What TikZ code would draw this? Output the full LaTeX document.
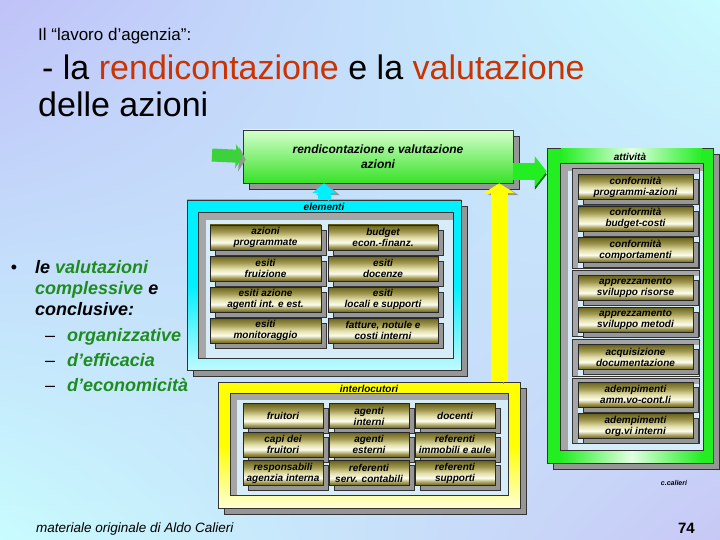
\documentclass[tikz,border=0pt]{standalone}
\usepackage{fontspec}
\setmainfont{Liberation Sans}
\usetikzlibrary{positioning,shadows,shadings,arrows.meta}

\definecolor{lavbg}{RGB}{192,194,248}
\definecolor{lavbg2}{RGB}{200,200,246}
\definecolor{cyanbg}{RGB}{200,252,254}
\definecolor{titred}{RGB}{204,51,0}
\definecolor{valgreen}{RGB}{30,140,30}
\definecolor{shadegray}{RGB}{150,150,150}
\definecolor{bevelgray}{RGB}{166,166,166}
\definecolor{panelblue}{RGB}{214,236,248}
\definecolor{olivedk}{RGB}{104,98,28}
\definecolor{olivemd}{RGB}{160,152,80}
\definecolor{olivelt}{RGB}{226,222,170}
\definecolor{cream}{RGB}{252,252,238}
\definecolor{framecyan}{RGB}{0,240,255}
\definecolor{cyanpale}{RGB}{190,250,255}
\definecolor{frameyellow}{RGB}{255,255,0}
\definecolor{yellowpale}{RGB}{255,255,215}
\definecolor{framegreen}{RGB}{34,238,34}
\definecolor{greenpale}{RGB}{225,255,225}
\definecolor{boxgreen}{RGB}{56,226,40}
\definecolor{boxlight}{RGB}{214,255,205}
\definecolor{arrgreen}{RGB}{60,210,60}

\pgfdeclareverticalshading{olivecell}{100bp}{color(0bp)=(olivedk); color(25bp)=(olivedk); color(31bp)=(olivemd); color(40bp)=(cream); color(50bp)=(olivelt); color(62bp)=(olivemd); color(75bp)=(olivedk); color(100bp)=(olivedk)}

\tikzset{
  framebox/.style={draw=gray!40!black, line width=0.5pt, inner sep=0pt,
    general shadow={fill=shadegray, draw=gray!40!black, shadow xshift=6pt, shadow yshift=-6pt}},
  panelbox/.style={fill=bevelgray, draw=gray!40!black, line width=0.4pt, inner sep=0pt,
    path picture={\fill[panelblue] ([xshift=#1,yshift=-#1]path picture bounding box.north west)
      rectangle (path picture bounding box.south east);}},
  panelbox/.default=8pt,
  cellbox/.style={minimum width=#1, minimum height=25pt, inner sep=0pt, align=center,
    shade, shading=olivecell, draw=gray!30!black, line width=0.4pt,
    font=\bfseries\itshape\fontsize{10}{11}\selectfont,
    general shadow={fill=shadegray, draw=gray!40!black, shadow xshift=5pt, shadow yshift=-5pt}},
  framelabel/.style={font=\bfseries\itshape\fontsize{10}{12}\selectfont, inner sep=0pt},
  listtxt/.style={anchor=base west, inner sep=0pt, font=\bfseries\itshape\fontsize{18}{20}\selectfont},
  uparrow/.style={line width=#1, -{Triangle[width=1.8*#1,length=10pt]},
    preaction={draw=shadegray, transform canvas={shift={(4pt,-2pt)}}}},
}

\begin{document}
\begin{tikzpicture}[x=1pt,y=-1pt]
  \useasboundingbox (0,0) rectangle (720,540);
  \shade[upper left=lavbg, upper right=cyanbg, lower left=cyanbg, lower right=lavbg2] (0,0) rectangle (720,540);

  % title
  \node[anchor=base west, inner sep=0pt, font=\fontsize{17}{20}\selectfont] (tit1) at (38,41) {Il “lavoro d’agenzia”:};
  \node[anchor=base west, inner sep=0pt, font=\fontsize{34}{38}\selectfont] (tit2) at (42,80)
    {- la \textcolor{titred}{rendicontazione} e la \textcolor{titred}{valutazione}};
  \node[anchor=base west, inner sep=0pt, font=\fontsize{34}{38}\selectfont] (tit3) at (38,117) {delle azioni};

  % bullet list
  \node[anchor=base, inner sep=0pt, font=\fontsize{18}{20}\selectfont] (bul) at (14,273) {•};
  \node[listtxt] (val1) at (35,273) {le \textcolor{valgreen}{valutazioni}};
  \node[listtxt] (val2) at (35,294) {\textcolor{valgreen}{complessive} e};
  \node[listtxt] (val3) at (35,315) {conclusive:};
  \node[listtxt, font=\fontsize{18}{20}\selectfont] (d1) at (45,341) {–};
  \node[listtxt, font=\fontsize{18}{20}\selectfont] (d2) at (45,366) {–};
  \node[listtxt, font=\fontsize{18}{20}\selectfont] (d3) at (45,391) {–};
  \node[listtxt, text=valgreen] (org) at (67,341) {organizzative};
  \node[listtxt, text=valgreen] (eff) at (67,366) {d’efficacia};
  \node[listtxt, text=valgreen] (eco) at (67,391) {d’economicità};

  % top box
  \node[framebox, top color=boxlight, bottom color=boxgreen, minimum width=270pt, minimum height=53pt,
    align=center, font=\bfseries\itshape\fontsize{12}{15}\selectfont] (rend) at (378,156.5)
    {rendicontazione e valutazione\\azioni};

  % elementi
  \node[framebox, top color=framecyan, bottom color=cyanpale, middle color=framecyan,
    minimum width=274pt, minimum height=170pt] (elem) at (324,285) {};
  \node[framelabel] (elemlab) at (324,206.5) {elementi};
  \node[panelbox, minimum width=255pt, minimum height=146pt] (elempan) at (325.5,285) {};
  \begin{scope}[node distance=31pt]
    \node[cellbox=111pt] (azprog) at (265.5,237.5) {azioni\\programmate};
    \node[cellbox=111pt] (esfruiz) [below of=azprog] {esiti\\fruizione};
    \node[cellbox=111pt] (esazione) [below of=esfruiz] {esiti azione\\agenti int. e est.};
    \node[cellbox=111pt] (esmonit) [below of=esazione] {esiti\\monitoraggio};
  \end{scope}
  \begin{scope}[node distance=117.5pt]
    \node[cellbox=110pt] (budget) [right of=azprog] {budget\\econ.-finanz.};
    \node[cellbox=110pt] (esdoc) [right of=esfruiz] {esiti\\docenze};
    \node[cellbox=110pt] (eslocali) [right of=esazione] {esiti\\locali e supporti};
    \node[cellbox=110pt] (fatture) [right of=esmonit] {fatture, notule e\\costi interni};
  \end{scope}

  % interlocutori
  \node[framebox, top color=frameyellow, bottom color=yellowpale, middle color=frameyellow,
    minimum width=302pt, minimum height=126pt] (inter) at (369,445) {};
  \node[framelabel] (interlab) at (369,389) {interlocutori};
  \node[panelbox=7pt, minimum width=278pt, minimum height=102pt] (interpan) at (369,444) {};
  \begin{scope}[node distance=28.5pt]
    \node[cellbox=80pt] (fruitori) at (283,416) {fruitori};
    \node[cellbox=80pt] (capi) [below of=fruitori] {capi dei\\fruitori};
    \node[cellbox=80pt] (respons) [below of=capi] {responsabili\\agenzia interna};
  \end{scope}
  \begin{scope}[node distance=86pt]
    \node[cellbox=80pt] (agint) [right of=fruitori] {agenti\\interni};
    \node[cellbox=80pt] (agest) [right of=capi] {agenti\\esterni};
    \node[cellbox=80pt] (refserv) [right of=respons] {referenti\\serv. contabili};
    \node[cellbox=80pt] (docenti) [right of=agint] {docenti};
    \node[cellbox=80pt] (refimm) [right of=agest] {referenti\\immobili e aule};
    \node[cellbox=80pt] (refsupp) [right of=refserv] {referenti\\supporti};
  \end{scope}

  % attivita
  \node[framebox, fill=framegreen, minimum width=166pt, minimum height=315pt] (att) at (630,305.5) {};
  \shade[left color=framegreen, right color=framegreen, middle color=greenpale]
    ([xshift=14pt,yshift=1pt]att.south west) rectangle ([xshift=-11pt,yshift=14pt]att.south east);
  \shade[left color=framegreen, right color=framegreen, middle color=greenpale]
    ([xshift=14pt,yshift=-1pt]att.north west) rectangle ([xshift=-11pt,yshift=-14pt]att.north east);
  \node[framelabel] (attlab) at (630,156.5) {attività};
  \node[panelbox, minimum width=143pt, minimum height=287pt] (attpan) at (631.5,306.5) {};
  \node[panelbox=6pt, minimum width=127pt, minimum height=100pt] (grpA) at (635.5,218) {};
  \node[panelbox=6pt, minimum width=127pt, minimum height=66pt] (grpB) at (635.5,303) {};
  \node[panelbox=6pt, minimum width=127pt, minimum height=37pt] (grpC) at (635.5,357.5) {};
  \node[panelbox=6pt, minimum width=127pt, minimum height=65pt] (grpD) at (635.5,410.5) {};
  \begin{scope}[node distance=31.5pt]
    \node[cellbox=115pt] (confprog) at (635.5,187) {conformità\\programmi-azioni};
    \node[cellbox=115pt] (confbud) [below of=confprog] {conformità\\budget-costi};
    \node[cellbox=115pt] (confcomp) [below of=confbud] {conformità\\comportamenti};
    \node[cellbox=115pt] (apprris) at (635.5,288) {apprezzamento\\sviluppo risorse};
    \node[cellbox=115pt] (apprmet) [below of=apprris] {apprezzamento\\sviluppo metodi};
    \node[cellbox=115pt] (acquis) at (635.5,357) {acquisizione\\documentazione};
    \node[cellbox=115pt] (ademamm) at (635.5,394.5) {adempimenti\\amm.vo-cont.li};
    \node[cellbox=115pt] (ademorg) [below of=ademamm] {adempimenti\\org.vi interni};
  \end{scope}

  % arrows
  \coordinate (ingresso) at (212,155);
  \draw[line width=13pt, draw=arrgreen, -{Triangle[width=24pt,length=7pt]},
    preaction={draw=shadegray, transform canvas={shift={(3pt,-3pt)}}}] (ingresso) -- (rend.west);
  \draw[uparrow=13pt, draw=framecyan] (elem.north) -- (elem.north |- rend.south);
  \coordinate (giallo) at ([xshift=-21pt]inter.north east);
  \draw[uparrow=17pt, draw=frameyellow] (giallo) -- (giallo |- rend.south);
  \draw[line width=17pt, draw=framegreen, -{Triangle[width=30pt,length=12pt]},
    preaction={draw=green!45!black, transform canvas={shift={(0pt,-3pt)}}}]
    ([yshift=-15pt]rend.east) -- ([yshift=-15pt]rend.east -| att.west);

  % footer
  \node[font=\bfseries\itshape\fontsize{7}{8}\selectfont, inner sep=0pt] (sigla) at (674,483) {c.calieri};
  \node[anchor=base west, inner sep=0pt, font=\itshape\fontsize{13.5}{16}\selectfont] (fonte) at (36,532)
    {materiale originale di Aldo Calieri};
  \node[anchor=base east, inner sep=0pt, font=\bfseries\fontsize{15}{18}\selectfont] (pagina) at (695,533) {74};
\end{tikzpicture}
\end{document}
